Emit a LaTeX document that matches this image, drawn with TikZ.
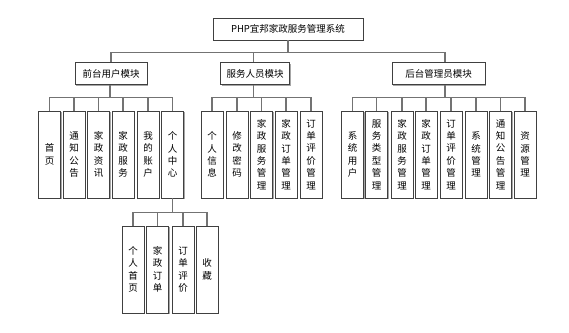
\documentclass[tikz,border=0pt]{standalone}
\usepackage{fontspec}
\setmainfont{Noto Sans CJK SC}
\usetikzlibrary{shadows}
\begin{document}
\begin{tikzpicture}[x=1pt,y=-1pt,
  box/.style={draw=black!75,line width=0.7pt,fill=white,inner sep=0pt,
    font=\fontsize{9.5}{12.4}\selectfont,
    drop shadow={shadow xshift=1pt,shadow yshift=-1pt,fill=black!35,opacity=1}},
  hbox/.style={box,minimum height=22pt},
  vbox/.style={box,minimum width=22pt,minimum height=87pt,align=center,text width=10pt},
  link/.style={draw=black!55,line width=1.1pt}]
\useasboundingbox (0,0) rectangle (569,332);
% top
\node[hbox,minimum width=150pt] (top) at (288,29) {PHP宜邦家政服务管理系统};
% modules
\node[hbox,minimum width=72pt] (m1) at (111,73.5) {前台用户模块};
\node[hbox,minimum width=69pt] (m2) at (255,73.5) {服务人员模块};
\node[hbox,minimum width=93pt] (m3) at (438.5,73.5) {后台管理员模块};
\draw[link] (top.south) -- ++(0,12) coordinate (b0);
\draw[link] (m1.north) |- (b0) -| ([xshift=6.5pt]m3.north);
\draw[link] ([xshift=-1.5pt]m2.north) -- ([xshift=-1.5pt]m2.north |- b0);
% module 1 children
\foreach \n/\x/\t in {a1/49.5/首\\页, a2/74/通\\知\\公\\告, a3/98.5/家\\政\\资\\讯, a4/123/家\\政\\服\\务, a5/148/我\\的\\账\\户, a6/172.5/个\\人\\中\\心}
  \node[vbox] (\n) at (\x,154.5) {\t};
% module 2 children
\foreach \n/\x/\t in {b1/212/个\\人\\信\\息, b2/237/修\\改\\密\\码, b3/261.5/家\\政\\服\\务\\管\\理, b4/286/家\\政\\订\\单\\管\\理, b5/311/订\\单\\评\\价\\管\\理}
  \node[vbox] (\n) at (\x,154.5) {\t};
% module 3 children
\foreach \n/\x/\t in {c1/352.5/系\\统\\用\\户, c2/376.5/服\\务\\类\\型\\管\\理, c3/402/家\\政\\服\\务\\管\\理, c4/426/家\\政\\订\\单\\管\\理, c5/451/订\\单\\评\\价\\管\\理, c6/476/系\\统\\管\\理, c7/500.5/通\\知\\公\\告\\管\\理, c8/525/资\\源\\管\\理}
  \node[vbox] (\n) at (\x,154.5) {\t};
% level 3
\foreach \n/\x/\t in {d1/133/个\\人\\首\\页, d2/157.5/家\\政\\订\\单, d3/183/订\\单\\评\\价, d4/207/收\\藏}
  \node[vbox] (\n) at (\x,269.5) {\t};
% connectors module 1
\draw[link] ([xshift=-1pt]m1.south) -- ++(0,12.5) coordinate (k1);
\draw[link] (a1.north) |- (k1) -| (a6.north);
\foreach \c in {a2,a3,a4,a5} \draw[link] (\c.north) -- (\c.north |- k1);
% module 2
\draw[link] ([xshift=-1.5pt]m2.south) -- ++(0,12.5) coordinate (k2);
\draw[link] (b1.north) |- (k2) -| (b5.north);
\foreach \c in {b2,b3,b4} \draw[link] (\c.north) -- (\c.north |- k2);
% module 3
\draw[link] ([xshift=6.5pt]m3.south) -- ++(0,12.5) coordinate (k3);
\draw[link] (c1.north) |- (k3) -| (c8.north);
\foreach \c in {c2,c3,c4,c5,c6,c7} \draw[link] (\c.north) -- (\c.north |- k3);
% level 3
\draw[link] (a6.south) -- ++(0,14) coordinate (k4);
\draw[link] (d1.north) |- (k4) -| (d4.north);
\foreach \c in {d2,d3} \draw[link] (\c.north) -- (\c.north |- k4);
\end{tikzpicture}
\end{document}
